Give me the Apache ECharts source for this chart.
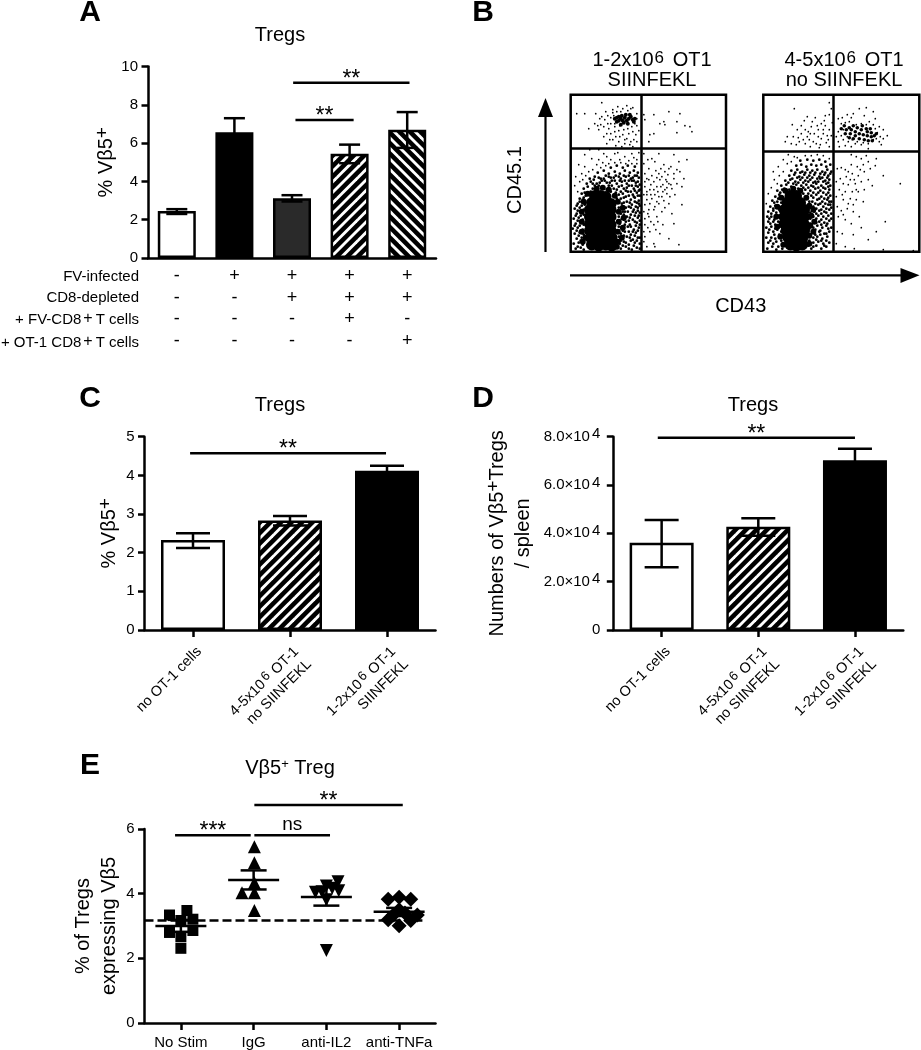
<!DOCTYPE html>
<html><head><meta charset="utf-8">
<script src="https://cdn.jsdelivr.net/npm/echarts@6/dist/echarts.min.js"></script>
<style>html,body{margin:0;padding:0;background:#fff}#c{width:921px;height:1050px}</style>
</head><body><div id="c"></div>
<script>
// ---- Panel A
const aCats = [0,1,2,3,4];
const aValues = [2.45,6.57,3.12,5.45,6.7];
const aLow = [2.3,5.85,2.95,4.95,5.75];
const aHigh = [2.55,7.3,3.28,5.92,7.62];
const aRowInfected = ['-','+','+','+','+'];
const aRowDepleted = ['-','-','+','+','+'];
const aRowFV = ['-','-','-','+','-'];
const aRowOT1 = ['-','-','-','-','+'];
const aBrackets = [[2.02,4.04,9.15,'**'],[2.06,3.07,7.2,'**']];
// ---- Panel C
const cdCats = ['no OT-1 cells','4-5x10^6 OT-1\nno SIINFEKL','1-2x10^6 OT-1\nSIINFEKL'];
const cValues = [2.33,2.83,4.12];
const cLow = [2.12,2.7,4.0];
const cHigh = [2.5,2.95,4.25];
const cBrackets = [[-0.03,1.99,4.57,'**']];
// ---- Panel D
const dValues = [36100,42700,70300];
const dLow = [26000,39000,65000];
const dHigh = [45500,46200,75000];
const dTicks = {0:'0',20000:'2.0',40000:'4.0',60000:'6.0',80000:'8.0'};
const dBrackets = [[-0.04,2.0,79600,'**']];
// ---- Panel E
const eCats = ['No Stim','IgG','anti-IL2','anti-TNFa'];
const eMean = [3.0,4.42,3.9,3.44];
const eLow = [2.82,4.13,3.63,3.31];
const eHigh = [3.19,4.72,4.2,3.56];
const eNoStim = [[-0.156,3.34],[0.083,3.48],[0,3.17],[0.165,3.21],[-0.156,2.8],[0.165,2.86],[0,2.67],[0,2.31]];
const eIgG = [[1.01,5.45],[1.01,4.96],[1.01,4.34],[0.84,4.03],[1.01,4.03],[1.01,3.48]];
const eIL2 = [[1.85,4.04],[2,4.24],[2.16,4.37],[1.94,4.06],[2.17,4.09],[2,3.81],[2.08,4.17],[2,2.24]];
const eTNF = [[2.85,3.83],[3,3.89],[3.16,3.83],[3,3.5],[2.92,3.34],[3.08,3.4],[3.25,3.34],[2.85,3.19],[3,3.01],[3.16,3.17]];
const eDashed = [[-0.5,3.17],[3.32,3.17]];
const eBrackets = [[-0.08,0.96,5.81,'***'],[1.01,2.05,5.81,'ns'],[1.01,3.05,6.74,'**']];
// ---- Panel B gates and events (axis units = arbitrary log scale)
const b1Gate = [70.3,103.4];
const b2Gate = [70,100.7];
const b1Core = [[21,7],[28,6],[35,7],[41,6],[20,14],[27,14],[34,13],[41,14],[19,21],[26,21],[33,20],[40,21],[19,28],[26,28],[33,28],[40,27],[19,35],[26,35],[33,34],[40,35],[19,42],[26,42],[33,42],[40,42],[21,49],[28,49],[35,49],[40,48],[24,56],[30,56],[35,55]];
const b1Halo = [[12,10],[11,20],[11,30],[11,40],[13,50],[47,10],[47,20],[48,30],[48,40],[47,50],[44,56],[17,58],[15,14],[46,5],[38,62],[26,63],[32,64],[52,44],[53,34],[52,24],[51,14]];
const b1Cluster = [[50,133],[54,134],[58,133],[52,131],[56,131],[60,135],[55,137],[48,131],[62,132],[53,129],[57,128],[51,136],[44,133],[46,130],[48,135],[50,127],[63,130],[59,137],[64,133],[46,134]];
const b1Mid = [[5,3],[10,4],[13,2],[50,3],[55,5],[61,2],[66,4],[3,8],[8,9],[12,7],[49,8],[53,10],[58,7],[64,9],[6,13],[11,14],[51,13],[56,15],[62,12],[67,14],[4,18],[9,19],[13,17],[50,18],[54,20],[60,17],[65,19],[2,23],[7,24],[12,22],[52,23],[57,25],[63,22],[68,24],[5,28],[10,29],[49,28],[55,30],[59,27],[66,29],[3,33],[8,34],[12,32],[51,33],[56,35],[62,32],[67,34],[6,38],[11,39],[50,38],[54,40],[60,37],[65,39],[68,36],[4,43],[9,44],[13,42],[52,43],[58,45],[63,42],[67,44],[7,48],[12,49],[51,48],[56,50],[61,47],[66,49],[9,53],[13,54],[50,53],[55,55],[60,52],[64,54],[68,51],[11,58],[14,59],[48,57],[52,58],[57,60],[62,57],[66,59],[69,56],[13,63],[17,65],[22,63],[28,66],[33,64],[38,66],[43,63],[48,65],[53,63],[58,66],[63,63],[67,65],[16,68],[20,70],[26,68],[31,71],[36,69],[41,71],[46,68],[51,70],[56,68],[61,71],[65,69],[69,67],[19,73],[24,75],[30,73],[35,76],[40,74],[45,76],[50,73],[55,75],[60,73],[64,76],[68,74],[27,79],[33,81],[38,78],[44,80],[49,78],[54,81],[59,79],[63,81],[67,79],[40,84],[46,86],[52,84],[57,86],[64,85],
[47,4],[52,6],[58,3],[63,6],[69,3],[7,5],[10,11],[47,10],[50,11],[55,9],[60,11],[66,11],[69,8],[8,16],[13,12],[48,15],[53,16],[59,14],[64,16],[69,14],[6,21],[11,21],[48,21],[52,21],[58,20],[62,20],[67,21],[4,26],[9,26],[13,27],[48,25],[54,27],[60,25],[65,26],[69,27],[7,31],[12,30],[47,31],[53,32],[58,31],[64,30],[69,31],[5,36],[10,36],[13,37],[48,35],[53,37],[59,34],[64,36],[69,39],[7,41],[12,41],[47,40],[52,40],[57,40],[62,40],[67,41],[6,46],[11,46],[48,44],[55,44],[60,44],[65,45],[69,46],[9,50],[14,47],[48,49],[53,49],[59,49],[64,50],[68,48],[12,52],[46,53],[53,54],[58,56],[63,55],[67,56],[15,56],[45,59],[50,60],[55,61],[60,60],[64,61],[68,61],[20,60],[40,60],[24,66],[36,62],[41,66],[46,62],[51,66],[56,64],[61,66],[65,66],[69,62],[22,68],[29,69],[34,71],[39,69],[44,71],[49,71],[54,71],[58,71],[63,71],[67,70],[23,72],[28,74],[33,73],[38,75],[43,74],[48,75],[53,76],[58,76],[62,74],[66,76]];
const b1Dust = [[6,138],[14,138],[31,149],[25,138],[29,133],[34,132],[24,128],[18,123],[28,122],[38,123],[33,115],[44,120],[53,122],[61,125],[49,115],[56,113],[63,112],[66,110],[39,112],[48,110],[54,108],[59,107],[37,136],[42,139],[40,128],[44,125],[66,126],[68,121],[65,117],[36,118],[30,127],[47,145],[56,146],[62,144],[52,117],[58,118],[45,106],[51,105],[62,105],[35,140],[40,134],[43,136],[37,128],[33,125],[27,126],[31,135],[46,140],[49,126],[64,128],[66,133],[45,115],[40,118],[54,112],[60,110],[48,121],[57,123],[62,120],[42,112],[36,108],[60,143],[52,143],[42,142],[50,140],[66,138],[57,141],[44,128],
[83,137],[98,140],[93,130],[109,138],[106,130],[114,126],[119,125],[121,120],[106,119],[89,128],[79,117],[78,110],[73,137],[74,132],[94,127],[83,118],
[88,98],[103,97],[116,92],[108,90],[93,87],[81,93],[84,90],[98,83],[106,82],[113,73],[111,65],[94,80],[88,78],[78,83],[76,73],[83,70],[89,72],[96,70],[103,73],[101,63],[94,62],[86,65],[79,62],[74,65],[76,57],[84,57],[91,55],[99,55],[104,57],[111,47],[98,48],[88,48],[79,48],[74,47],[83,42],[91,40],[101,38],[86,35],[78,35],[74,27],[83,27],[92,27],[103,28],[79,20],[89,18],[74,15],[98,13],[83,8],[76,5],[108,7],[84,5],
[81,76],[85,81],[91,75],[97,77],[100,67],[92,67],[80,67],[74,78],[73,88],[77,92],[73,98],[87,60],[96,58],[73,57],[81,53],[93,51],[106,68],[109,80],[73,40],[78,42],[74,33],[80,30],[73,10],[86,74],[90,83],[95,72],[100,85],[103,78],[78,72],[83,62],[90,65],[96,64],[88,55],[74,70],[76,60],[80,57],[92,60],[98,68],[86,50],[76,52],[84,45],[94,44],[77,38],[87,30],[77,24],[85,22],[73,20],
[19,102],[28,102],[14,97],[21,93],[8,87],[36,95],[44,98],[49,92],[54,95],[61,98],[66,92],[28,92],[14,85],[26,87],[32,89],[40,92],[58,91],[63,94],[68,99],[47,99],[33,98],[5,75],[9,70],[4,66],[11,78],[7,60],[18,80],[38,88],[44,89],[50,89],[55,88],[61,88],[66,88],[12,72],[15,76],[22,82],[30,84],[35,86]];
const b2Core = [[27,7],[33,6],[39,7],[25,14],[32,14],[39,13],[23,21],[30,21],[37,20],[41,21],[21,28],[28,28],[35,28],[41,27],[21,35],[28,35],[35,34],[41,35],[21,42],[28,42],[35,42],[41,42],[24,49],[31,49],[37,49],[27,56],[33,56]];
const b2Halo = [[20,7],[17,15],[14,25],[13,35],[14,45],[18,54],[46,8],[46,16],[47,26],[48,36],[46,46],[43,54],[22,61],[30,63],[37,61],[50,20],[51,30],[50,42]];
const b2Cluster = [[88,122],[92,120],[96,118],[100,117],[104,116],[108,115],[92,116],[98,122],[104,120],[87,118],[96,113],[101,112],[83,122],[108,119],[82,118],[86,124],[90,126],[94,124],[99,126],[103,123],[107,123],[111,116],[113,118],[109,111],[105,111],[90,113],[86,114],[81,126],[78,123]];
const b2Mid = [[4,3],[9,5],[13,2],[48,3],[53,6],[58,3],[63,5],[5,9],[10,8],[50,9],[55,10],[60,8],[66,9],[3,14],[8,14],[12,13],[50,14],[54,15],[59,13],[64,15],[5,19],[10,20],[51,19],[56,20],[61,18],[66,20],[3,24],[8,25],[12,23],[50,24],[54,26],[59,24],[63,26],[68,24],[5,30],[10,30],[51,29],[56,30],[61,29],[66,31],[4,35],[8,35],[12,34],[50,35],[55,36],[60,35],[65,36],[5,40],[10,41],[51,40],[56,41],[61,40],[66,42],[7,45],[12,46],[50,45],[55,47],[60,45],[65,47],[68,44],[9,51],[14,50],[49,50],[54,52],[59,50],[64,52],[68,50],[12,55],[16,57],[48,56],[53,57],[58,55],[63,57],[67,56],[14,61],[19,62],[42,62],[47,61],[52,63],[57,61],[62,63],[66,62],[18,66],[23,67],[28,65],[33,67],[38,66],[43,67],[48,66],[53,68],[58,66],[63,68],[67,66],[22,71],[27,72],[32,70],[37,72],[42,71],[47,72],[52,70],[57,73],[62,71],[66,72],[26,76],[31,77],[36,75],[41,77],[46,76],[51,77],[56,75],[61,77],[65,76],[28,81],[34,82],[39,80],[44,82],[49,81],[54,82],[59,80],[64,82],[68,80],[33,86],[38,87],[43,85],[48,87],[53,86],[58,87],[63,85],[67,87],[37,91],[44,92],[50,91],[56,92],[62,90],
[15,5],[19,3],[22,6],[45,6],[50,5],[61,6],[13,10],[18,11],[46,11],[53,12],[58,11],[63,11],[7,11],[11,17],[16,17],[20,15],[46,17],[52,17],[57,17],[63,18],[6,22],[14,22],[18,20],[46,23],[52,22],[57,21],[65,23],[7,28],[12,27],[15,30],[47,28],[53,29],[58,27],[64,28],[6,33],[11,32],[15,36],[47,33],[53,33],[58,32],[63,33],[68,33],[8,38],[13,39],[16,42],[47,39],[53,38],[58,38],[63,39],[68,38],[10,43],[15,45],[47,44],[53,43],[58,42],[63,43],[67,47],[11,49],[18,49],[46,50],[52,48],[57,48],[62,48],[66,50],[15,53],[20,54],[44,55],[50,54],[56,53],[61,53],[65,54],[17,59],[40,58],[45,58],[50,59],[55,59],[60,59],[65,59],[21,63],[26,62],[35,63],[40,64],[45,64],[50,65],[55,64],[60,64],[65,65],[25,69],[30,68],[35,69],[40,69],[45,70],[50,69],[55,70],[60,70],[65,69],[29,73],[34,74],[39,74],[44,74],[49,74],[54,73],[59,74],[64,74],[32,79],[37,79],[42,79],[47,79],[52,79],[57,78],[62,79],[67,78]];
const b2Dust = [[31,143],[66,149],[44,135],[52,134],[62,136],[66,137],[68,143],[29,127],[34,122],[38,126],[24,115],[22,110],[28,108],[35,114],[40,112],[45,120],[48,125],[51,118],[55,122],[58,128],[62,126],[66,122],[68,116],[42,108],[47,105],[53,108],[58,113],[63,109],[66,105],[38,118],[46,112],[55,115],[60,118],[33,107],[49,130],[56,104],[64,116],[41,131],[69,129],[36,110],[44,115],[50,110],[54,126],[60,122],[65,112],[57,107],[47,118],[42,122],[30,115],[61,131],
[75,133],[79,134],[84,137],[90,138],[88,134],[96,143],[103,144],[110,140],[112,133],[101,136],[106,130],[110,127],[116,125],[120,122],[113,113],[116,110],[118,107],[105,108],[98,107],[92,108],[85,110],[80,112],[75,110],[73,115],[120,113],[124,116],[105,103],[78,128],[82,129],[86,130],[93,127],[98,128],[103,127],[80,122],[75,120],[78,116],[84,115],[89,112],[94,110],[100,109],[110,112],[114,119],[117,115],[112,123],[76,105],[82,106],[88,105],
[88,97],[93,95],[98,93],[103,96],[113,93],[105,90],[100,87],[94,85],[88,87],[82,82],[78,84],[74,83],[120,76],[112,86],[107,83],[101,80],[95,76],[89,78],[83,75],[77,73],[73,70],[85,67],[92,68],[98,70],[105,72],[109,66],[101,62],[95,60],[89,60],[82,60],[76,62],[73,55],[80,52],[87,53],[93,52],[100,50],[84,43],[78,41],[90,40],[96,35],[75,35],[82,32],[88,28],[98,24],[74,20],[79,18],[90,17],[113,20],[105,12],[73,8],[82,5],[91,3],[120,2],[150,1],[122,30],[137,68],[85,80],[91,72],[97,82],[80,68],[87,72],[93,62],[79,57],[85,48],[74,45],[80,37],[90,47],
[25,97],[31,95],[15,85],[20,92],[24,88],[11,72],[16,76],[8,64],[5,58],[3,48],[10,80],[20,80],[28,90],[34,94],[42,96],[48,96],[54,97],[60,96],[66,93],[14,68]];

const FF = 'Liberation Sans';
function hatch(dir){
  const c = document.createElement('canvas'); const S = 21; c.width = S; c.height = S;
  const g = c.getContext('2d'); g.fillStyle='#000'; g.fillRect(0,0,S,S);
  g.strokeStyle='#fff'; g.lineWidth=2.9;
  for(let k=-2*S;k<=3*S;k+=10.5){ g.beginPath();
    if(dir>0){g.moveTo(k-S,2*S);g.lineTo(k+2*S,-S);}
    else{g.moveTo(k-S,-S);g.lineTo(k+2*S,2*S);}
    g.stroke(); }
  return {image:c,repeat:'repeat'};
}
const up = hatch(1), down = hatch(-1);
const aFills = ['#fff','#000','#2a2a2a',up,down];
const cFills = ['#fff',up,'#000'];
const LW = 2.5;

function errSeries(x,y,low,high,capW){
  return {type:'custom',xAxisIndex:x,yAxisIndex:y,z:5,silent:true,
    data:low.map((l,i)=>[i,l,high[i]]),encode:{x:0,y:[1,2]},
    renderItem(p,api){
      const a=api.coord([api.value(0),api.value(1)]),b=api.coord([api.value(0),api.value(2)]);
      const s={stroke:'#000',lineWidth:LW};
      return {type:'group',children:[
        {type:'line',shape:{x1:a[0],y1:a[1],x2:b[0],y2:b[1]},style:s},
        {type:'line',shape:{x1:a[0]-capW/2,y1:a[1],x2:a[0]+capW/2,y2:a[1]},style:s},
        {type:'line',shape:{x1:a[0]-capW/2,y1:b[1],x2:a[0]+capW/2,y2:b[1]},style:s}]};
    }};
}
function bracketSeries(x,y,rows){
  return {type:'custom',xAxisIndex:x,yAxisIndex:y,z:6,silent:true,
    data:rows.map(r=>[r[0],r[1],r[2]]),encode:{x:[0,1],y:2},
    renderItem(p,api){
      const a=api.coord([api.value(0),api.value(2)]),b=api.coord([api.value(1),api.value(2)]);
      const t=rows[p.dataIndex][3];
      return {type:'group',children:[
        {type:'line',shape:{x1:a[0],y1:a[1],x2:b[0],y2:b[1]},style:{stroke:'#000',lineWidth:LW}},
        {type:'text',style:{text:t,x:(a[0]+b[0])/2,y:t==='ns'?a[1]-1:a[1]+8,align:'center',verticalAlign:'bottom',fill:'#000',
          fontFamily:FF,fontSize:t==='ns'?19:23}}]};
    }};
}
function barSeries(x,y,vals,fills,w){
  return {type:'bar',xAxisIndex:x,yAxisIndex:y,barWidth:w,silent:true,
    data:vals.map((v,i)=>({value:v,itemStyle:{color:fills[i],borderColor:'#000',borderWidth:LW}}))};
}
function scat(x,y,data,symbol,size){return {type:'scatter',xAxisIndex:x,yAxisIndex:y,data,symbol,symbolSize:size,silent:true,itemStyle:{color:'#000',opacity:1},z:4};}
const axisLn={lineStyle:{color:'#000',width:LW}};
const tick={length:6.5,lineStyle:{color:'#000',width:LW}};
function yA(i,max,interval,name,gap,extra){
  return Object.assign({type:'value',gridIndex:i,min:0,max,interval,name,nameLocation:'middle',nameGap:gap,nameMoveOverlap:false,
    nameTextStyle:{fontFamily:FF,fontSize:20,color:'#000',lineHeight:26,rich:{a:{fontFamily:FF,fontSize:20,lineHeight:26,color:'#000'},s:{fontFamily:FF,fontSize:19,lineHeight:10,verticalAlign:'top',color:'#000',padding:[0,0,16,0]}}},
    axisLine:Object.assign({show:true,onZero:false},axisLn),axisTick:Object.assign({show:true},tick),splitLine:{show:false},
    axisLabel:{fontFamily:FF,fontSize:15,color:'#000',margin:10}},extra||{});
}
function hiddenX(i,n){return {type:'value',gridIndex:i,min:-0.5,max:n-0.5,show:false,splitLine:{show:false}};}
const diagLabel={rotate:45,align:'right',verticalAlign:'top',margin:13,interval:0,color:'#000',fontFamily:FF,fontSize:14.5,lineHeight:18,
  formatter:v=>{const parts=v.split('^'); if(parts.length===1) return '{a|'+v+'}';
    const m=parts[1].split('\n');
    return '{a|'+parts[0]+'}{s|'+m[0][0]+'}{a|'+m[0].slice(1)+'}\n{a|'+m[1]+'}';},
  rich:{a:{fontFamily:FF,fontSize:14.5,color:'#000',lineHeight:18},s:{fontFamily:FF,fontSize:13,color:'#000',lineHeight:10,verticalAlign:'top',padding:[0,1,8,2]}}};
const catX=(i,data,extra)=>Object.assign({type:'category',gridIndex:i,data,boundaryGap:true,
  axisLine:Object.assign({show:true,onZero:false},axisLn),
  axisTick:Object.assign({show:true,alignWithLabel:true},{length:7,lineStyle:{color:'#000',width:LW}}),splitLine:{show:false}},extra);

const tt=(text,left,top,size,weight,rich)=>({text,left,top,padding:0,textAlign:'center',textStyle:{fontFamily:FF,fontSize:size,fontWeight:weight||'normal',color:'#000',lineHeight:rich?20:undefined,rich}});
const richT={a:{fontFamily:FF,fontSize:20,color:'#000',lineHeight:20},s:{fontFamily:FF,fontSize:17,color:'#000',lineHeight:6,verticalAlign:'top',padding:[0,3,14,1]}};
const richE={a:{fontFamily:FF,fontSize:20,color:'#000',lineHeight:20},s:{fontFamily:FF,fontSize:13,color:'#000',lineHeight:6,verticalAlign:'top',padding:[0,0,14,0]}};
const rowText=(text,y)=>({type:'text',silent:true,style:{text,x:139,y,align:'right',verticalAlign:'middle',fill:'#000',fontFamily:FF,fontSize:15,
  rich:{a:{fontFamily:FF,fontSize:15,color:'#000',lineHeight:18},s:{fontFamily:FF,fontSize:16,color:'#000',lineHeight:4,verticalAlign:'top',padding:[0,3,14,2]}}}});

const option={
  animation:false,backgroundColor:'#fff',
  title:[
    tt('A',90,-2,30,'bold'),tt('B',483,-2,30,'bold'),tt('C',90,384,30,'bold'),tt('D',483,384,30,'bold'),tt('E',90,751,30,'bold'),
    tt('Tregs',280,25,20),tt('Tregs',280,395,20),tt('Tregs',753,395,20),
    tt('{a|Vβ5}{s|+}{a| Treg}',290,758,20,'normal',richE),
    tt('{a|1-2x10}{s|6}{a| OT1}\n{a|SIINFEKL}',652,50,20,'normal',richT),
    tt('{a|4-5x10}{s|6}{a| OT1}\n{a|no SIINFEKL}',844,50,20,'normal',richT)
  ],
  grid:[
    {left:148,top:66.5,width:288,height:191.5},
    {left:144.5,top:436.7,width:291,height:193.3},
    {left:613.3,top:436.7,width:290,height:193.3},
    {left:144.5,top:829,width:291,height:194.3},
    {left:570.7,top:94.7,width:155.3,height:157,show:true,borderColor:'#000',borderWidth:2.5,backgroundColor:'#fff'},
    {left:763.3,top:94.7,width:156,height:157,show:true,borderColor:'#000',borderWidth:2.5,backgroundColor:'#fff'}
  ],
  xAxis:[
    catX(0,aCats,{axisTick:{show:false},axisLabel:{interval:0,margin:7,fontFamily:FF,fontSize:18,lineHeight:21.8,color:'#000',
      formatter:(v,i)=>[aRowInfected[i],aRowDepleted[i],aRowFV[i],aRowOT1[i]].join('\n')}}),
    catX(1,cdCats,{axisLabel:diagLabel}),
    catX(2,cdCats,{axisLabel:diagLabel}),
    catX(3,eCats,{axisLabel:{interval:0,margin:12,fontFamily:FF,fontSize:15,color:'#000'}}),
    {type:'value',gridIndex:4,min:0,max:155,show:false,splitLine:{show:false}},
    {type:'value',gridIndex:5,min:0,max:156,show:false,splitLine:{show:false}},
    hiddenX(0,5),hiddenX(1,3),hiddenX(2,3),hiddenX(3,4)
  ],
  yAxis:[
    yA(0,10,2,'{a|% Vβ5}{s|+}',29),
    yA(1,5,1,'{a|% Vβ5}{s|+}',22),
    yA(2,80000,20000,'{a|Numbers of Vβ5}{s|+}{a|Tregs}\n{a|/ spleen}',77,{axisLabel:{margin:13,color:'#000',fontFamily:FF,fontSize:15,
       formatter:v=>v===0?'0':'{b|'+dTicks[v]+'×10}{s|4}',
       rich:{b:{fontFamily:FF,fontSize:15,color:'#000',lineHeight:20},s:{fontFamily:FF,fontSize:15,color:'#000',lineHeight:10,verticalAlign:'top',padding:[0,0,10,2]}}}}),
    yA(3,6,2,'{a|% of Tregs}\n{a|expressing Vβ5}',22),
    {type:'value',gridIndex:4,min:0,max:157,show:false,splitLine:{show:false}},
    {type:'value',gridIndex:5,min:0,max:157,show:false,splitLine:{show:false}}
  ],
  series:[
    barSeries(0,0,aValues,aFills,38),errSeries(0,0,aLow,aHigh,21),bracketSeries(6,0,aBrackets),
    barSeries(1,1,cValues,cFills,64),errSeries(1,1,cLow,cHigh,34),bracketSeries(7,1,cBrackets),
    barSeries(2,2,dValues,cFills,64),errSeries(2,2,dLow,dHigh,34),bracketSeries(8,2,dBrackets),
    {type:'line',xAxisIndex:9,yAxisIndex:3,data:eDashed,symbol:'none',silent:true,z:3,lineStyle:{color:'#000',width:2.6,type:[9,4]}},
    scat(9,3,eNoStim,'rect',11),
    scat(9,3,eIgG,'triangle',13),
    scat(9,3,eIL2,'path://M0,0 L10,0 L5,10 Z',13),
    scat(9,3,eTNF,'diamond',15),
    errSeries(3,3,eLow,eHigh,26),
    {type:'custom',xAxisIndex:3,yAxisIndex:3,z:5,silent:true,data:eMean.map((m,i)=>[i,m]),encode:{x:0,y:1},
      renderItem(p,api){const a=api.coord([api.value(0),api.value(1)]);
        return {type:'line',shape:{x1:a[0]-25.5,y1:a[1],x2:a[0]+25.5,y2:a[1]},style:{stroke:'#000',lineWidth:LW}};}},
    bracketSeries(9,3,eBrackets),
    scat(4,4,b1Core,'circle',11.5),scat(4,4,b1Halo,'circle',6),scat(4,4,b1Cluster,'circle',4),scat(4,4,b1Mid,'circle',2.8),scat(4,4,b1Dust,'circle',1.7),
    scat(5,5,b2Core,'circle',11.5),scat(5,5,b2Halo,'circle',6),scat(5,5,b2Cluster,'circle',3.6),scat(5,5,b2Mid,'circle',2.8),scat(5,5,b2Dust,'circle',1.7),
    {type:'scatter',xAxisIndex:4,yAxisIndex:4,data:[],markLine:{silent:true,symbol:'none',label:{show:false},animation:false,lineStyle:{color:'#000',width:2.5,type:'solid'},
      data:[{xAxis:b1Gate[0]},{yAxis:b1Gate[1]}]}},
    {type:'scatter',xAxisIndex:5,yAxisIndex:5,data:[],markLine:{silent:true,symbol:'none',label:{show:false},animation:false,lineStyle:{color:'#000',width:2.5,type:'solid'},
      data:[{xAxis:b2Gate[0]},{yAxis:b2Gate[1]}]}}
  ],
  graphic:[
    rowText('{a|FV-infected}',277),rowText('{a|CD8-depleted}',298),rowText('{a|+ FV-CD8}{s|+}{a|T cells}',320),rowText('{a|+ OT-1 CD8}{s|+}{a|T cells}',343),
    {type:'line',silent:true,shape:{x1:545.5,y1:252,x2:545.5,y2:112},style:{stroke:'#000',lineWidth:2.2}},
    {type:'polygon',silent:true,shape:{points:[[545.5,98],[538,117],[553,117]]},style:{fill:'#000'}},
    {type:'line',silent:true,shape:{x1:570,y1:275.3,x2:905,y2:275.3},style:{stroke:'#000',lineWidth:2.2}},
    {type:'polygon',silent:true,shape:{points:[[919.5,275.3],[900.5,268],[900.5,283]]},style:{fill:'#000'}},
    {type:'text',silent:true,x:515,y:180,rotation:Math.PI/2,style:{text:'CD45.1',align:'center',verticalAlign:'middle',fill:'#000',fontFamily:FF,fontSize:20}},
    {type:'text',silent:true,style:{text:'CD43',x:740.7,y:306.7,align:'center',verticalAlign:'middle',fill:'#000',fontFamily:FF,fontSize:20}}
  ]
};
const chart=echarts.init(document.getElementById('c'),null,{renderer:'canvas',width:921,height:1050});
chart.setOption(option);
</script></body></html>
